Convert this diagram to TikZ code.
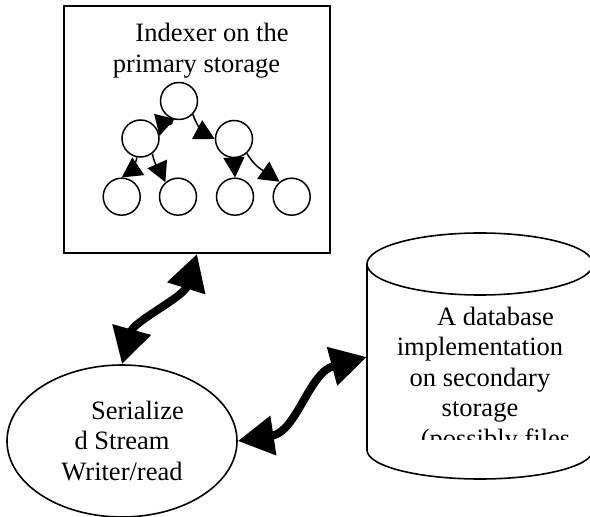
\documentclass[tikz,border=0pt]{standalone}
\usepackage{fontspec}
\setmainfont{Liberation Serif}
\usetikzlibrary{arrows.meta,shapes.geometric}
\tikzset{
  lbl/.style={font=\fontsize{26.5}{30.5}\selectfont, align=center, inner sep=0pt},
  outline/.style={draw=black, line width=1.6pt},
  treenode/.style={circle, draw=black, line width=1.5pt, minimum size=37pt, inner sep=0pt},
  treehead/.tip={Triangle[length=20pt,width=21pt]},
  bighead/.tip={Triangle[length=36pt,width=38pt]},
  treearrow/.style={line width=1.5pt, -treehead},
  bigarrow/.style={line width=8pt, bighead-bighead}
}
\begin{document}
\begin{tikzpicture}[x=1pt,y=1pt]
\useasboundingbox (0,0) rectangle (590,517);

% indexer box
\node[outline, line width=2pt, minimum width=266pt, minimum height=247pt, inner sep=0pt] (box) at (197,387.5) {};
\node[lbl] (title) at (196.5,466.5) {\hspace*{31pt}Indexer on the\\primary storage};

% tree
\node[treenode] (t)  at (179,416) {};
\node[treenode] (l)  at (140.5,378.5) {};
\node[treenode] (r)  at (234,378) {};
\node[treenode] (b1) at (121.7,320.3) {};
\node[treenode] (b2) at (178,320.3) {};
\node[treenode] (b3) at (235,320.3) {};
\node[treenode] (b4) at (291.7,320.3) {};

\draw[treearrow] (t.250) to[out=-80,in=76] (l.8);
\draw[treearrow] (t.316) to[out=-70,in=152] (r.west);
\draw[treearrow] (l.259) to[out=-100,in=34] (b1.north);
\draw[treearrow] (l.308) to[out=-80,in=114] (b2.131);
\draw[treearrow] (r.south) -- (b3.north);
\draw[treearrow] (r.312) to[out=-60,in=145] (b4.129);

% serializer ellipse
\node[ellipse, outline, minimum width=230pt, minimum height=152pt, inner sep=0pt, lbl] (ser) at (122,76)
  {\hspace*{31pt}Serialize\\d Stream\\Writer/read};

% database cylinder
\node[minimum width=226pt, minimum height=186pt, inner sep=0pt] (db) at (480,160) {};
\draw[outline] (367,253) -- (367,67) arc[start angle=180, end angle=360, x radius=113, y radius=29] -- (593,253);
\draw[outline] (480,253) ellipse [x radius=113, y radius=31];
\begin{scope}
  \clip (370,77) rectangle (590,240);
  \node[lbl] (dbtext) at (480,137.2)
    {\hspace*{31pt}A database\\implementation\\on secondary\\storage\\\hspace*{31pt}(possibly files};
\end{scope}

% big double arrows
\draw[bigarrow] (ser.north) .. controls +(12,43) and +(-13.5,-43) .. (box.south);
\draw[bigarrow] (ser.east) .. controls +(59,9) and +(-58,-15.6) .. (db.west);
\end{tikzpicture}
\end{document}
